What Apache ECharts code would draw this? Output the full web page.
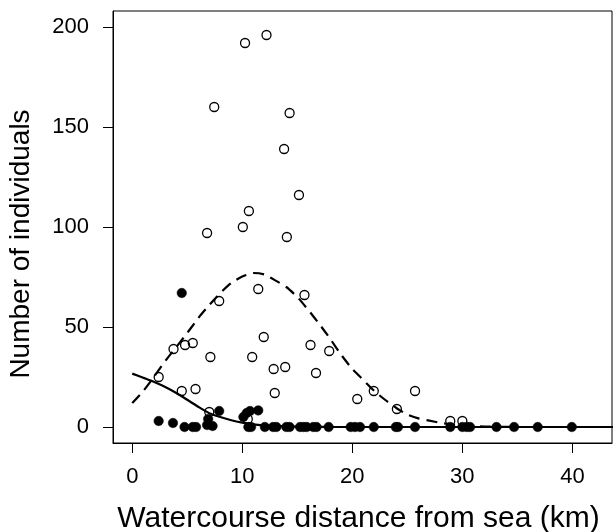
<!DOCTYPE html>
<html>
<head>
<meta charset="utf-8">
<script src="https://cdn.jsdelivr.net/npm/echarts@6/dist/echarts.min.js"></script>
<style>html,body{margin:0;padding:0;background:#fff}#c{width:613px;height:532px}</style>
</head>
<body>
<div id="c"></div>
<script>
// Open circles (dashed-curve group)
const openX = [10.25, 12.2, 7.45, 14.3, 13.8, 15.15, 10.6, 10.05, 6.8, 14.05,
  11.45, 15.65, 7.9, 3.75, 4.8, 5.5, 11.95, 16.2, 17.9, 7.1, 10.9, 12.85, 13.9, 16.7,
  2.4, 12.95, 4.5, 5.75, 20.45, 21.95, 25.7, 24.05, 28.9, 30.0, 7.0, 10.5];
const openY = [192, 196, 160, 157, 139, 116, 108, 100, 97, 95,
  69, 66, 63, 39, 41, 42, 45, 41, 38, 35, 35, 29, 30, 27,
  25, 17, 18, 19, 14, 18, 18, 9, 3, 3, 7.5, 4];
// Filled circles (solid-curve group)
const filledX = [4.5, 2.4, 3.7, 6.9, 6.8, 7.9, 10.1, 10.4, 10.7, 11.45,
  4.75, 5.5, 5.8, 7.3, 10.55, 10.8, 12.05, 12.8, 13.1, 14.0, 14.3, 15.25, 15.55, 15.85,
  16.45, 16.75, 17.85, 19.85, 20.25, 20.7, 21.95, 23.95, 24.15, 25.7, 28.9, 30.0, 30.4,
  30.7, 33.1, 34.7, 36.85, 39.95];
const filledY = [67, 3, 2, 4, 1, 8, 5, 7, 8, 8.3,
  0, 0, 0, 0.5, 0, 0, 0, 0, 0, 0, 0, 0, 0, 0,
  0, 0, 0, 0, 0, 0, 0, 0, 0, 0, 0, 0, 0,
  0, 0, 0, 0, 0];
// Fitted curves
const curveX = [0, 1, 2, 3, 4, 5, 6, 7, 8, 9, 10, 11, 12, 13, 14, 15, 16, 17, 18, 19, 20,
  21, 22, 23, 24, 25, 26, 27, 28, 29, 30, 31, 32, 33, 35, 40, 44];
const dashedY = [12, 18, 25.3, 33, 40, 47, 54.5, 61, 67, 72, 75.2, 77, 76.3, 73.3, 70, 65,
  58.5, 51.5, 44, 36, 29, 23.5, 18, 13.5, 9.5, 6.2, 4.3, 3.2, 2.1, 1.3, 0.7, 0.4, 0.2, 0.1, 0, 0, 0];
const solidY = [26.7, 24.6, 22.5, 20, 17, 13.6, 10.1, 6.9, 5, 3.4, 2.2, 1.3, 0.8, 0.5, 0.3,
  0.15, 0.08, 0.05, 0.02, 0, 0, 0, 0, 0, 0, 0, 0, 0, 0, 0, 0, 0, 0, 0, 0, 0, 0];
const xTicks = [0, 10, 20, 30, 40];
const yTicks = [0, 50, 100, 150, 200];
const xTitle = 'Watercourse distance from sea (km)';
const yTitle = 'Number of individuals';

const FONT = '"Liberation Sans", Arial, Helvetica, sans-serif';
const pairs = (xs, ys) => xs.map((x, i) => [x, ys[i]]);

const chart = echarts.init(document.getElementById('c'), null, {renderer: 'canvas'});
chart.setOption({
  animation: false,
  backgroundColor: '#ffffff',
  grid: {left: 113, top: 11, right: 1, bottom: 89, show: true, borderColor: '#000', borderWidth: 1, containLabel: false},
  xAxis: {
    type: 'value', min: -1.75, max: 43.6,
    axisLine: {show: true, onZero: false, lineStyle: {color: '#000', width: 1}},
    axisTick: {show: true, length: 10, customValues: xTicks, lineStyle: {color: '#000', width: 1}},
    axisLabel: {customValues: xTicks, color: '#000', fontSize: 22, fontFamily: FONT, margin: 23},
    splitLine: {show: false}
  },
  yAxis: {
    type: 'value', min: -8, max: 208,
    axisLine: {show: true, onZero: false, lineStyle: {color: '#000', width: 1}},
    axisTick: {show: true, length: 10, customValues: yTicks, lineStyle: {color: '#000', width: 1}},
    axisLabel: {customValues: yTicks, color: '#000', fontSize: 22, fontFamily: FONT, margin: 24},
    splitLine: {show: false}
  },
  graphic: [
    {type: 'text', x: 358.5, y: 519, style: {text: xTitle, font: '30px ' + FONT, fill: '#000', align: 'center', verticalAlign: 'middle'}},
    {type: 'text', x: 21, y: 244, rotation: Math.PI / 2, style: {text: yTitle, font: '28px ' + FONT, fill: '#000', align: 'center', verticalAlign: 'middle'}}
  ],
  series: [
    {type: 'scatter', data: pairs(openX, openY), symbol: 'circle', symbolSize: 9,
      itemStyle: {color: 'rgba(0,0,0,0)', borderColor: '#000', borderWidth: 1.3, opacity: 1}, z: 2},
    {type: 'scatter', data: pairs(filledX, filledY), symbol: 'circle', symbolSize: 9.5,
      itemStyle: {color: '#000', borderColor: '#000', borderWidth: 0.5, opacity: 1}, z: 2},
    {type: 'line', data: pairs(curveX, dashedY), showSymbol: false, symbol: 'none', smooth: 0.2, clip: true,
      lineStyle: {color: '#000', width: 2.2, type: [11, 7]}, z: 3},
    {type: 'line', data: pairs(curveX, solidY), showSymbol: false, symbol: 'none', smooth: 0.2, clip: true,
      lineStyle: {color: '#000', width: 2.2}, z: 3}
  ]
});
</script>
</body>
</html>
